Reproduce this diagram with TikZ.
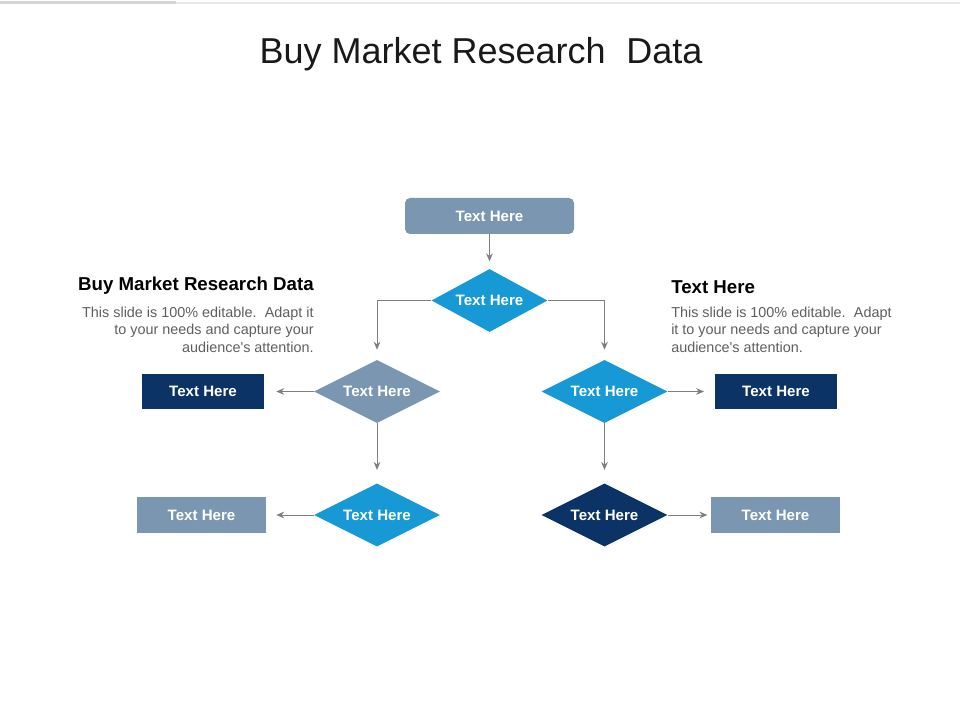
\documentclass[tikz,border=0pt]{standalone}
\usepackage{fontspec}
\setmainfont{Liberation Sans}
\usetikzlibrary{shapes.geometric,arrows.meta}
\definecolor{steel}{HTML}{7B96B0}
\definecolor{sky}{HTML}{1699D5}
\definecolor{navy}{HTML}{0B3366}
\definecolor{arrowgray}{HTML}{7F7F7F}
\definecolor{bodygray}{HTML}{5F5F5F}
\definecolor{bartop}{HTML}{D4D4D4}
\definecolor{barlight}{HTML}{E8E8E8}
\begin{document}
\begin{tikzpicture}[x=0.75pt,y=-0.75pt,
  lbl/.style={text=white,font=\fontsize{11.3}{13}\selectfont\bfseries},
  dia/.style={diamond,aspect=2,inner sep=0pt,minimum width=94.5pt,minimum height=47.25pt,lbl},
  topdia/.style={dia,minimum width=87pt},
  boxn/.style={rectangle,inner sep=0pt,minimum width=91.5pt,minimum height=26.25pt,fill=navy,lbl},
  boxs/.style={rectangle,inner sep=0pt,minimum width=96.75pt,minimum height=27pt,fill=steel,lbl},
  arr/.style={draw=arrowgray,line width=0.75pt,-{Stealth[length=6pt,width=5pt,inset=2pt]}},
  head/.style={inner sep=0pt,font=\fontsize{14}{16}\selectfont\bfseries,text=black},
  body/.style={inner sep=0pt,text=bodygray,font=\fontsize{10.8}{13.2}\selectfont}
]
\useasboundingbox (0,0) rectangle (960,720);
\fill[white] (0,0) rectangle (960,720);
% top bar
\fill[barlight] (0,2) rectangle (960,4.5);
\fill[bartop] (0,1) rectangle (176,4.5);
% title
\node[anchor=base,inner sep=0pt,font=\fontsize{27}{32}\selectfont,text=black!90] (title) at (481,64) {Buy Market Research\hspace{0.3em} Data};
% nodes
\node[rectangle,rounded corners=3.75pt,fill=steel,inner sep=0pt,minimum width=126.75pt,minimum height=27pt,lbl] (top) at (489.5,216) {Text Here};
\node[topdia,fill=sky] (d1) at (489.5,300.5) {Text Here};
\node[dia,fill=steel] (d2l) at (377,391.5) {Text Here};
\node[dia,fill=sky] (d2r) at (604.5,391.5) {Text Here};
\node[dia,fill=sky] (d3l) at (377,515) {Text Here};
\node[dia,fill=navy] (d3r) at (604.5,515) {Text Here};
\node[boxn] (r2l) at (203,391.5) {Text Here};
\node[boxn] (r2r) at (776,391.5) {Text Here};
\node[boxs] (r3l) at (201.5,515) {Text Here};
\node[boxs] (r3r) at (775.5,515) {Text Here};
% connectors
\draw[arr,shorten >=5.5pt] (top.south) -- (d1.north);
\draw[arr,shorten >=7.5pt] (d1.west) -| (d2l.north);
\draw[arr,shorten >=7.5pt] (d1.east) -| (d2r.north);
\draw[arr,shorten >=9pt] (d2l.west) -- (r2l.east);
\draw[arr,shorten >=8pt] (d2r.east) -- (r2r.west);
\draw[arr,shorten >=10pt] (d2l.south) -- (d3l.north);
\draw[arr,shorten >=10pt] (d2r.south) -- (d3r.north);
\draw[arr,shorten >=7.5pt] (d3l.west) -- (r3l.east);
\draw[arr,shorten >=2.5pt] (d3r.east) -- (r3r.west);
% side texts
\node[head,anchor=base east] (lhead) at (314,291) {Buy Market Research Data};
\node[body,anchor=north east,align=right] (lbody) at (314,306.5) {This slide is 100\% editable.\hspace{0.2em} Adapt it\\to your needs and capture your\\audience\textquotesingle s attention.};
\node[head,anchor=base west] (rhead) at (671,293.3) {Text Here};
\node[body,anchor=north west,align=left] (rbody) at (671,306.5) {This slide is 100\% editable.\hspace{0.2em} Adapt\\it to your needs and capture your\\audience\textquotesingle s attention.};
\end{tikzpicture}
\end{document}
